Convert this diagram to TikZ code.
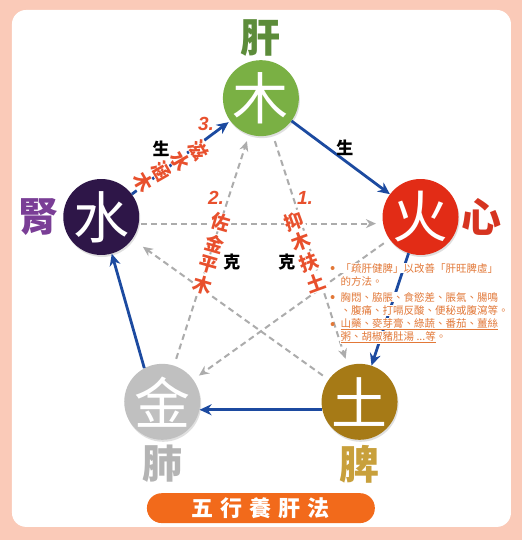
\documentclass[tikz,border=0pt]{standalone}
\usepackage{fontspec}
\setmainfont{Noto Sans CJK TC}
\newfontfamily\numfont{Liberation Sans}
\usetikzlibrary{calc}
\usetikzlibrary{arrows.meta}
\usetikzlibrary{shadows}

\definecolor{framepink}{RGB}{250,202,184}
\definecolor{woodgreen}{RGB}{122,176,68}
\definecolor{firered}{RGB}{226,44,22}
\definecolor{earthgold}{RGB}{166,122,22}
\definecolor{metalgray}{RGB}{192,192,192}
\definecolor{waterpurple}{RGB}{46,22,72}
\definecolor{livergreen}{RGB}{92,140,58}
\definecolor{heartred}{RGB}{214,52,32}
\definecolor{kidneypurple}{RGB}{122,62,150}
\definecolor{lunggray}{RGB}{180,180,180}
\definecolor{spleengold}{RGB}{200,160,60}
\definecolor{shengblue}{RGB}{28,74,160}
\definecolor{kegray}{RGB}{172,172,172}
\definecolor{tipred}{RGB}{232,80,45}
\definecolor{noteorange}{RGB}{226,120,56}
\definecolor{tagorange}{RGB}{242,106,27}

\begin{document}
\begin{tikzpicture}[
        elem/.style={circle, minimum size=2.67cm, inner sep=0pt, text=white,
            drop shadow={opacity=0.25, shadow xshift=1pt, shadow yshift=-2pt},
            font=\fontsize{56}{56}\selectfont},
        organ/.style={inner sep=0pt, font=\fontsize{40}{40}\bfseries\selectfont},
        sheng/.style={draw=shengblue, line width=2.8pt, -{Stealth[length=12pt,width=11pt]}},
        ke/.style={draw=kegray, line width=2pt, dash pattern=on 6pt off 4pt,
            -{Stealth[length=10pt,width=9pt]}, shorten <=7pt, shorten >=7pt},
        rel/.style={font=\fontsize{17}{17}\bfseries\selectfont},
        tip/.style={text=tipred, inner sep=0.5pt, fill=white,
            font=\fontsize{19}{19}\bfseries\selectfont},
        tipnum/.style={text=tipred, inner sep=0pt, font=\numfont\fontsize{19}{19}\bfseries\itshape\selectfont},
        note/.style={anchor=west, inner sep=0.5pt, fill=white, text=noteorange,
            font=\fontsize{10.5}{10.5}\selectfont},
        tag/.style={fill=tagorange, rounded corners=0.52cm, minimum width=8.01cm,
            minimum height=1.05cm, text=white, font=\fontsize{22}{22}\bfseries\selectfont}
    ]
        \useasboundingbox (-9.17,-9.63) rectangle (9.17,9.35);
        \fill[framepink] (-9.17,-9.63) rectangle (9.17,9.35);
        \fill[white, rounded corners=0.5cm] (-8.75,-9.17) rectangle (8.79,9.00);

        % the five elements
        \node[elem, fill=woodgreen]   (wood)  at ( 90:5.90) {木};
        \node[elem, fill=firered]     (fire)  at ($( 18:5.90)+( 0.00,-0.10)$) {火};
        \node[elem, fill=earthgold]   (earth) at (-54:5.90) {土};
        \node[elem, fill=metalgray]   (metal) at (234:5.90) {金};
        \node[elem, fill=waterpurple] (water) at ($(162:5.90)+( 0.00,-0.10)$) {水};

        \node[organ, text=livergreen]   (liver)  at ($(wood)+( 0.00, 2.11)$) {肝};
        \node[organ, text=heartred]     (heart)  at ($(fire)+( 2.14, 0.00)$) {心};
        \node[organ, text=kidneypurple] (kidney) at ($(water)+(-2.20, 0.00)$) {腎};
        \node[organ, text=lunggray]     (lung)   at ($(metal)+( 0.00,-2.18)$) {肺};
        \node[organ, text=spleengold]   (spleen) at ($(earth)+( 0.00,-2.18)$) {脾};

        % ke cycle
        \draw[ke] (wood) -- (earth);
        \draw[ke, shorten >=13pt] (earth) -- (water);
        \draw[ke, shorten <=2pt] (water.-10) -- (fire.190);
        \draw[ke] (fire) -- (metal);
        \draw[ke] (metal) -- (wood);

        % sheng cycle
        \draw[sheng, shorten >=2pt] (water) -- (wood);
        \draw[sheng] (wood) -- (fire);
        \draw[sheng] (fire) -- (earth);
        \draw[sheng] (earth.192) -- (metal.348);
        \draw[sheng] (metal.118) -- (water.286);

        \node[rel] (shengL) at (-3.51, 4.11) {生};
        \node[rel] (shengR) at ( 2.95, 4.15) {生};
        \node[rel] (keL)    at (-1.02, 0.14) {克};
        \node[rel] (keR)    at ( 0.91, 0.14) {克};

        % 3. along water -> wood
        \node[tipnum] (num3) at (-1.93, 4.99) {3.};
        \node[tip, rotate=-60] (tip3a) at (-2.18, 4.08) {滋};
        \node[tip, rotate=-60] (tip3b) at (-2.83, 3.70) {水};
        \node[tip, rotate=-60] (tip3c) at (-3.49, 3.32) {涵};
        \node[tip, rotate=-60] (tip3d) at (-4.14, 2.94) {木};
        % 2. along metal -> wood
        \node[tipnum] (num2) at (-1.58, 2.39) {2.};
        \node[tip, rotate=-16] (tip2a) at (-1.40, 1.53) {佐};
        \node[tip, rotate=-16] (tip2b) at (-1.61, 0.79) {金};
        \node[tip, rotate=-16] (tip2c) at (-1.83, 0.05) {平};
        \node[tip, rotate=-16] (tip2d) at (-2.04,-0.69) {木};
        % 1. along wood -> earth
        \node[tipnum] (num1) at ( 1.55, 2.39) {1.};
        \node[tip, rotate=20]  (tip1a) at ( 1.16, 1.58) {抑};
        \node[tip, rotate=20]  (tip1b) at ( 1.42, 0.85) {木};
        \node[tip, rotate=20]  (tip1c) at ( 1.68, 0.13) {扶};
        \node[tip, rotate=20]  (tip1d) at ( 1.94,-0.60) {土};

        % notes
        \node[note] (note1) at (2.78,-0.07) {「疏肝健脾」以改善「肝旺脾虛」};
        \node[note] (note2) at (2.78,-0.56) {的方法。};
        \node[note] (note3) at (2.78,-1.09) {胸悶、脇脹、食慾差、脹氣、腸鳴};
        \node[note] (note4) at (2.78,-1.55) {、腹痛、打嗝反酸、便秘或腹瀉等。};
        \node[note] (note5) at (2.78,-2.04) {\underline{山藥、麥芽膏、綠蔬、番茄、薑絲}};
        \node[note] (note6) at (2.78,-2.50) {\underline{粥、胡椒豬肚湯 ...等}。};
        \fill[noteorange] (2.52,-0.07) circle (2pt);
        \fill[noteorange] (2.52,-1.09) circle (2pt);
        \fill[noteorange] (2.52,-2.04) circle (2pt);

        \node[tag] (title) at (0.00,-8.51) {五\hspace{7pt}行\hspace{7pt}養\hspace{7pt}肝\hspace{7pt}法};
    \end{tikzpicture}
\end{document}
